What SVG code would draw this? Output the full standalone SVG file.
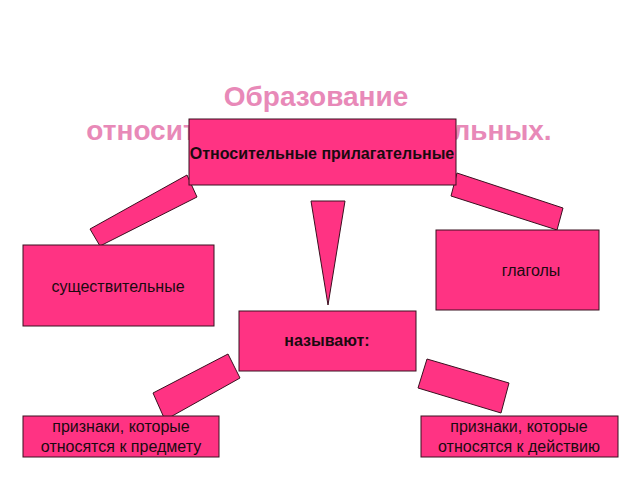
<svg xmlns="http://www.w3.org/2000/svg" width="640" height="480" viewBox="0 0 640 480">
<style>
.box{fill:#ff3383;stroke:#3a1020;stroke-width:1}
.con{fill:#ff3383;stroke:#3a1020;stroke-width:1}
.t{font-family:"Liberation Sans",Arial,sans-serif;font-size:16px;fill:#1a0a10;text-anchor:middle}
.b{font-weight:bold}
.title{font-family:"Liberation Sans",Arial,sans-serif;font-size:28px;font-weight:bold;fill:#e889b8;text-anchor:middle}
</style>
<rect width="640" height="480" fill="#ffffff"/>
<g id="title">
<text class="title" x="316" y="106">Образование</text>
<text class="title" x="319" y="140">относительных прилагательных.</text>
</g>
<g id="connectors">
<polygon class="con" points="90,229 187,175 197,197 100,246"/>
<polygon class="con" points="457,173 563,208 557,230 451,196"/>
<polygon class="con" points="311,201 345,201 328,305"/>
<polygon class="con" points="153,393 228,354 240,378 165,420"/>
<polygon class="con" points="427,359 509,383 501,413 418,388"/>
</g>
<g id="top">
<rect class="box" x="189" y="119" width="267" height="66"/>
<text class="t b" x="322" y="159">Относительные прилагательные</text>
</g>
<g id="nouns">
<rect class="box" x="23" y="245" width="191" height="81"/>
<text class="t" x="118" y="292">существительные</text>
</g>
<g id="verbs">
<rect class="box" x="436" y="230" width="163" height="80"/>
<text class="t" x="531" y="276">глаголы</text>
</g>
<g id="name">
<rect class="box" x="239" y="311" width="177" height="60"/>
<text class="t b" x="327" y="346">называют:</text>
</g>
<g id="subj">
<rect class="box" x="23" y="416" width="196" height="41"/>
<text class="t" x="121" y="432">признаки, которые</text>
<text class="t" x="121" y="452">относятся к предмету</text>
</g>
<g id="act">
<rect class="box" x="421" y="416" width="197" height="41"/>
<text class="t" x="519" y="432">признаки, которые</text>
<text class="t" x="519" y="452">относятся к действию</text>
</g>
</svg>
